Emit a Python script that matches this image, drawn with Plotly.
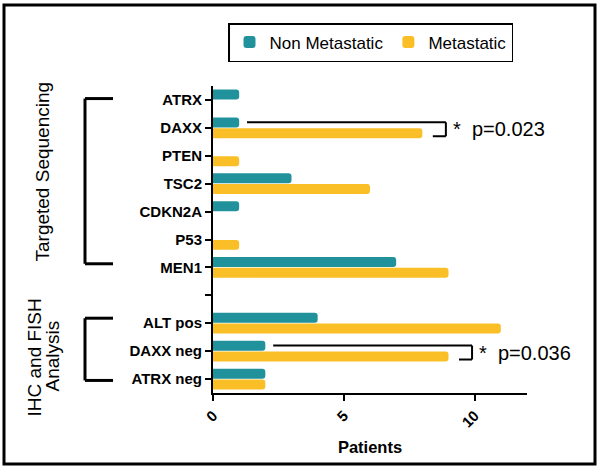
import plotly.graph_objects as go

# ---------------- data ----------------
categories = ["ATRX", "DAXX", "PTEN", "TSC2", "CDKN2A", "P53", "MEN1",
              " ", "ALT pos", "DAXX neg", "ATRX neg"]
non_metastatic = [1, 1, 0, 3, 1, 0, 7, None, 4, 2, 2]
metastatic = [0, 8, 1, 6, 0, 1, 9, None, 11, 9, 2]
series_names = ["Non Metastatic", "Metastatic"]
x_tickvals = [0, 5, 10]
x_title = "Patients"
group_first = ["ATRX", "ALT pos"]
group_last = ["MEN1", "ATRX neg"]
comparison_rows = ["DAXX", "DAXX neg"]
comparison_pvals = ["p=0.023", "p=0.036"]

# ---------------- style ----------------
TEAL = "#21929c"
YELLOW = "#fabf26"
FONT = "Liberation Sans, Arial, sans-serif"
W, H = 600, 473
ML, MR, MT, MB = 213, 73, 86, 80
PW, PH = W - ML - MR, H - MT - MB


def px_x(p):
    return (p - ML) / PW


def px_y(p):
    return (H - MB - p) / PH


fig = go.Figure()
fig.add_trace(go.Bar(y=categories, x=non_metastatic, name=series_names[0],
                     orientation="h", marker=dict(color=TEAL, cornerradius=3, line=dict(width=0))))
fig.add_trace(go.Bar(y=categories, x=metastatic, name=series_names[1],
                     orientation="h", marker=dict(color=YELLOW, cornerradius=3, line=dict(width=0))))

shapes = []
# outer frame
shapes.append(dict(type="rect", xref="paper", yref="paper",
                   x0=px_x(4), x1=px_x(595), y0=px_y(464), y1=px_y(5),
                   line=dict(color="black", width=3), fillcolor="rgba(0,0,0,0)", layer="above"))

# group brackets on the left
top_off = [-0.05, -0.18]
bot_off = [-0.13, 0.05]
bx, bx2 = px_x(85), px_x(113)
for i in range(2):
    t = categories.index(group_first[i]) + top_off[i]
    b = categories.index(group_last[i]) + bot_off[i]
    for (x0, x1, y0, y1) in [(bx, bx, t, b), (bx, bx2, t, t), (bx, bx2, b, b)]:
        shapes.append(dict(type="line", xref="paper", yref="y", x0=x0, x1=x1, y0=y0, y1=y1,
                           line=dict(color="black", width=3)))

annotations = []
# significance brackets
for row, ptxt in zip(comparison_rows, comparison_pvals):
    k = categories.index(row)
    nm, m = non_metastatic[k], metastatic[k]
    yt, yb = k - 0.2, k + 0.3
    xs, xe, xr = nm + 0.3, m + 0.9, m + 0.4
    for (x0, x1, y0, y1) in [(xs, xe, yt, yt), (xe, xe, yt, yb), (xr, xe, yb, yb)]:
        shapes.append(dict(type="line", xref="x", yref="y", x0=x0, x1=x1, y0=y0, y1=y1,
                           line=dict(color="black", width=2)))
    annotations.append(dict(x=xe, y=k + 0.05, xref="x", yref="y", text="*  " + ptxt,
                            showarrow=False, xanchor="left", yanchor="middle", xshift=5,
                            font=dict(family=FONT, size=20, color="black")))

# group labels
annotations.append(dict(x=px_x(42), y=px_y(171.5), xref="paper", yref="paper",
                        text="Targeted Sequencing", textangle=-90, showarrow=False,
                        xanchor="center", yanchor="middle",
                        font=dict(family=FONT, size=19, color="black")))
annotations.append(dict(x=px_x(33.5), y=px_y(358), xref="paper", yref="paper",
                        text="IHC and FISH", textangle=-90, showarrow=False,
                        xanchor="center", yanchor="middle",
                        font=dict(family=FONT, size=19, color="black")))
annotations.append(dict(x=px_x(51.5), y=px_y(356), xref="paper", yref="paper",
                        text="Analysis", textangle=-90, showarrow=False,
                        xanchor="center", yanchor="middle",
                        font=dict(family=FONT, size=19, color="black")))

fig.update_layout(
    width=W, height=H,
    margin=dict(l=ML, r=MR, t=MT, b=MB, pad=0),
    paper_bgcolor="white", plot_bgcolor="white",
    barmode="group", bargap=0.23, bargroupgap=0.07,
    font=dict(family=FONT, color="black"),
    showlegend=True,
    legend=dict(orientation="h", x=px_x(228), y=px_y(23), xanchor="left", yanchor="top",
                bordercolor="black", borderwidth=1.5, bgcolor="white",
                traceorder="normal", font=dict(family=FONT, size=17, color="black")),
    xaxis=dict(range=[0, 12], tickvals=x_tickvals, ticks="outside", ticklen=6, tickwidth=2,
               tickcolor="black", showline=True, linecolor="black", linewidth=2,
               showgrid=False, zeroline=False, tickangle=-45,
               tickfont=dict(family=FONT, size=15, weight="bold", color="black"),
               title=dict(text=x_title, font=dict(family=FONT, size=16.5, weight="bold", color="black"),
                          standoff=12),
               automargin=False),
    yaxis=dict(type="category", categoryorder="array", categoryarray=categories,
               range=[len(categories) - 0.5, -0.5], ticks="outside", ticklen=6, tickwidth=2,
               tickcolor="black", showline=True, linecolor="black", linewidth=2,
               showgrid=False, zeroline=False,
               tickfont=dict(family=FONT, size=15, weight="bold", color="black"),
               automargin=False),
    shapes=shapes,
    annotations=annotations,
)

fig.write_html("out.html", config={"displayModeBar": False},
               post_script="document.body.style.margin='0';document.body.style.padding='0';")
